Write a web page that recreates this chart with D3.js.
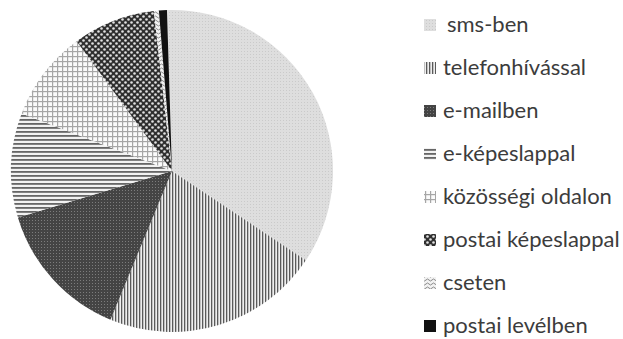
<!DOCTYPE html>
<html>
<head>
<meta charset="utf-8">
<script src="https://cdn.jsdelivr.net/npm/d3@7"></script>
<style>
  html, body { margin: 0; padding: 0; background: #fff; }
  svg { display: block; }
  .legend text { font-family: Lato, "Open Sans", sans-serif; font-size: 22px; fill: #3c3c3c; }
</style>
</head>
<body>
<div id="chart"></div>
<script>
// Channels and their share (%) of the answers
const categories = ["sms-ben", "telefonhívással", "e-mailben", "e-képeslappal",
                    "közösségi oldalon", "postai képeslappal", "cseten", "postai levélben"];
const shares = [34.9, 21.9, 14.1, 10.5, 9.1, 8.3, 0.5, 0.8];
const patternIds = ["p-sms", "p-tel", "p-mail", "p-ekep", "p-kozos", "p-postai", "p-cset", "p-level"];

const W = 623, H = 339;
const cx = 172, cy = 171, R = 161;

const svg = d3.select("#chart").append("svg")
  .attr("width", W).attr("height", H);

const defs = svg.append("defs");

// fill patterns, one per channel
function pattern(id, w, h) {
  return defs.append("pattern").attr("id", id)
    .attr("patternUnits", "userSpaceOnUse").attr("width", w).attr("height", h);
}
// light fine dots
let p = pattern("p-sms", 3, 3);
p.append("rect").attr("width", 3).attr("height", 3).attr("fill", "#dedede");
p.append("rect").attr("width", 1).attr("height", 1).attr("fill", "#cacaca");
// vertical lines
p = pattern("p-tel", 3, 3);
p.append("rect").attr("width", 3).attr("height", 3).attr("fill", "#eeeeee");
p.append("rect").attr("width", 1.3).attr("height", 3).attr("fill", "#5a5a5a");
// dark with small light dots
p = pattern("p-mail", 3, 3);
p.append("rect").attr("width", 3).attr("height", 3).attr("fill", "#444");
p.append("rect").attr("x", 1).attr("y", 1).attr("width", 1).attr("height", 1).attr("fill", "#7c7c7c");
// horizontal lines
p = pattern("p-ekep", 4, 4);
p.append("rect").attr("width", 4).attr("height", 4).attr("fill", "#f2f2f2");
p.append("rect").attr("width", 4).attr("height", 1.8).attr("fill", "#666");
// open grid
p = pattern("p-kozos", 5, 5);
p.append("rect").attr("width", 5).attr("height", 5).attr("fill", "#fbfbfb");
p.append("rect").attr("width", 5).attr("height", 1.2).attr("fill", "#a6a6a6");
p.append("rect").attr("width", 1.2).attr("height", 5).attr("fill", "#a6a6a6");
// dark with staggered white dots
p = pattern("p-postai", 6, 6);
p.append("rect").attr("width", 6).attr("height", 6).attr("fill", "#2f2f2f");
p.append("circle").attr("cx", 1.5).attr("cy", 1.5).attr("r", 1.3).attr("fill", "#e2e2e2");
p.append("circle").attr("cx", 4.5).attr("cy", 4.5).attr("r", 1.3).attr("fill", "#e2e2e2");
// waves
p = pattern("p-cset", 6, 4);
p.append("rect").attr("width", 6).attr("height", 4).attr("fill", "#f2f2f2");
p.append("path").attr("d", "M0,2 Q1.5,0 3,2 T6,2").attr("fill", "none")
  .attr("stroke", "#8a8a8a").attr("stroke-width", 1);
// solid black
p = pattern("p-level", 4, 4);
p.append("rect").attr("width", 4).attr("height", 4).attr("fill", "#111");

const data = categories.map((c, i) => ({ name: c, value: shares[i], fill: `url(#${patternIds[i]})` }));

const pie = d3.pie().sort(null).value(d => d.value)
  .startAngle(-1.8 * Math.PI / 180)
  .endAngle(2 * Math.PI - 1.8 * Math.PI / 180);
const arc = d3.arc().innerRadius(0).outerRadius(R);

svg.append("g").attr("transform", `translate(${cx},${cy})`)
  .selectAll("path").data(pie(data)).join("path")
  .attr("d", arc)
  .attr("fill", d => d.data.fill);

// legend
const rowY = d3.scalePoint().domain(categories).range([32, 333]);
const legend = svg.append("g").attr("class", "legend");
const items = legend.selectAll("g").data(data).join("g")
  .attr("transform", d => `translate(0,${rowY(d.name)})`);
items.append("rect")
  .attr("x", 424).attr("y", -13).attr("width", 12).attr("height", 12)
  .attr("fill", d => d.fill);
items.append("text")
  .attr("x", (d, i) => i === 0 ? 447 : 443)
  .attr("y", 0)
  .text(d => d.name);
</script>
</body>
</html>
